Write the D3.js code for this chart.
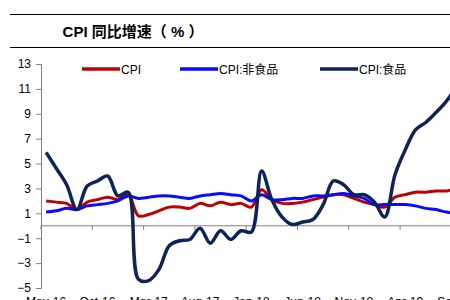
<!DOCTYPE html>
<html>
<head>
<meta charset="utf-8">
<script src="https://cdn.jsdelivr.net/npm/d3@7"></script>
<style>
  body { margin: 0; background: #fff; }
  svg { display: block; font-family: "Liberation Sans", Arial, sans-serif; }
</style>
</head>
<body>
<svg id="chart"></svg>
<script>
// months May-16 .. Sep-19
const months = ['May-16','Jun-16','Jul-16','Aug-16','Sep-16','Oct-16','Nov-16','Dec-16',
  'Jan-17','Feb-17','Mar-17','Apr-17','May-17','Jun-17','Jul-17','Aug-17','Sep-17','Oct-17','Nov-17','Dec-17',
  'Jan-18','Feb-18','Mar-18','Apr-18','May-18','Jun-18','Jul-18','Aug-18','Sep-18','Oct-18','Nov-18','Dec-18',
  'Jan-19','Feb-19','Mar-19','Apr-19','May-19','Jun-19','Jul-19','Aug-19','Sep-19'];

const cpi = [2.0, 1.9, 1.8, 1.3, 1.9, 2.1, 2.3, 2.1,
  2.5, 0.8, 0.9, 1.2, 1.5, 1.5, 1.4, 1.8, 1.6, 1.9, 1.7, 1.8,
  1.5, 2.9, 2.1, 1.8, 1.8, 1.9, 2.1, 2.3, 2.5, 2.5, 2.2, 1.9,
  1.7, 1.5, 2.3, 2.5, 2.7, 2.7, 2.8, 2.8, 3.0];

const cpiNonFood = [1.1, 1.2, 1.4, 1.3, 1.6, 1.7, 1.8, 2.0,
  2.4, 2.2, 2.3, 2.4, 2.4, 2.3, 2.2, 2.4, 2.5, 2.6, 2.5, 2.4,
  2.0, 2.5, 2.1, 2.1, 2.2, 2.2, 2.4, 2.4, 2.5, 2.6, 2.4, 2.2,
  1.7, 1.7, 1.7, 1.7, 1.6, 1.4, 1.3, 1.1, 1.0];

const cpiFood = [5.9, 4.6, 3.3, 1.3, 3.2, 3.6, 4.0, 2.4,
  2.7, -4.3, -4.4, -3.5, -1.6, -1.2, -1.1, -0.2, -1.4, -0.4, -1.1, -0.4,
  -0.5, 4.4, 2.1, 0.7, 0.1, 0.3, 0.5, 1.7, 3.6, 3.3, 2.5, 2.5,
  1.9, 0.7, 4.1, 6.1, 7.7, 8.3, 9.1, 10.0, 11.2];

const yTicks = [-5, -3, -1, 1, 3, 5, 7, 9, 11, 13];

const seriesNames = ['CPI', 'CPI:非食品', 'CPI:食品'];
const seriesColors = ['#c00000', '#0a0aff', '#0c2458'];
const seriesData = [cpi, cpiNonFood, cpiFood];

const width = 450, height = 300;
const plot = {left: 41, top: 64, bottom: 288};
const step = 10.26;

const svg = d3.select('#chart').attr('width', width).attr('height', height);

// title block
svg.append('line').attr('x1', 10).attr('x2', 450).attr('y1', 14.5).attr('y2', 14.5)
  .attr('stroke', '#000').attr('stroke-width', 1.2);
svg.append('line').attr('x1', 10).attr('x2', 450).attr('y1', 47.5).attr('y2', 47.5)
  .attr('stroke', '#000').attr('stroke-width', 1.2);
svg.append('text')
  .attr('x', 133).attr('y', 37)
  .attr('text-anchor', 'middle')
  .style('font-size', '15px').style('font-weight', 'bold')
  .style('font-family', '"Liberation Sans", "Noto Sans CJK SC", sans-serif')
  .text('CPI 同比增速（ % ）');

// scales
const x = d3.scaleBand()
  .domain(months)
  .range([plot.left, plot.left + months.length * step]);

const y = d3.scaleLinear()
  .domain([-5, 13])
  .range([plot.bottom, plot.top]);

// y axis
const yAxis = svg.append('g')
  .attr('transform', `translate(${plot.left},0)`)
  .call(d3.axisLeft(y).tickValues(yTicks).tickSize(5).tickPadding(5).tickFormat(d3.format('d')));
yAxis.select('.domain').attr('stroke', '#808080');
yAxis.selectAll('.tick line').attr('stroke', '#808080');
yAxis.selectAll('text').style('font-size', '12px').attr('fill', '#000')
  .style('font-family', '"Liberation Sans", Arial, sans-serif');

// x axis along zero
const tickIdx = d3.range(0, months.length, 5);
const xAxis = svg.append('g')
  .attr('transform', `translate(0,${y(0)})`);
xAxis.append('line')
  .attr('x1', plot.left).attr('x2', width)
  .attr('stroke', '#808080');
xAxis.selectAll('.xtick')
  .data(tickIdx.concat([months.length]))
  .join('line')
  .attr('class', 'xtick')
  .attr('x1', i => plot.left + i * x.step())
  .attr('x2', i => plot.left + i * x.step())
  .attr('y1', 0).attr('y2', 4)
  .attr('stroke', '#808080');

// x tick labels at the bottom (cut off by the frame, as in the original)
svg.selectAll('.xlabel')
  .data(tickIdx)
  .join('text')
  .attr('class', 'xlabel')
  .attr('x', i => x(months[i]) + x.bandwidth() / 2)
  .attr('y', 306)
  .attr('text-anchor', 'middle')
  .style('font-size', '12px')
  .text(i => months[i]);

// lines
const line = d3.line()
  .x((d, i) => x(months[i]) + x.bandwidth() / 2)
  .y(d => y(d))
  .curve(d3.curveCatmullRom.alpha(0.5));

svg.selectAll('.series')
  .data(seriesData)
  .join('path')
  .attr('class', 'series')
  .attr('fill', 'none')
  .attr('stroke', (d, i) => seriesColors[i])
  .attr('stroke-width', (d, i) => i === 2 ? 3.5 : 3)
  .attr('stroke-linejoin', 'round')
  .attr('d', line);

// legend
const legendX = [82, 180, 320];
const legend = svg.selectAll('.legend-entry')
  .data(seriesNames)
  .join('g')
  .attr('class', 'legend-entry')
  .attr('transform', (d, i) => `translate(${legendX[i]},69)`);
legend.append('line')
  .attr('x1', 0).attr('x2', 38)
  .attr('stroke', (d, i) => seriesColors[i])
  .attr('stroke-width', 3.5);
legend.append('text')
  .attr('x', 39).attr('y', 4.5)
  .style('font-size', '12px')
  .style('font-family', '"Liberation Sans", "Noto Sans CJK SC", sans-serif')
  .text(d => d);
</script>
</body>
</html>
